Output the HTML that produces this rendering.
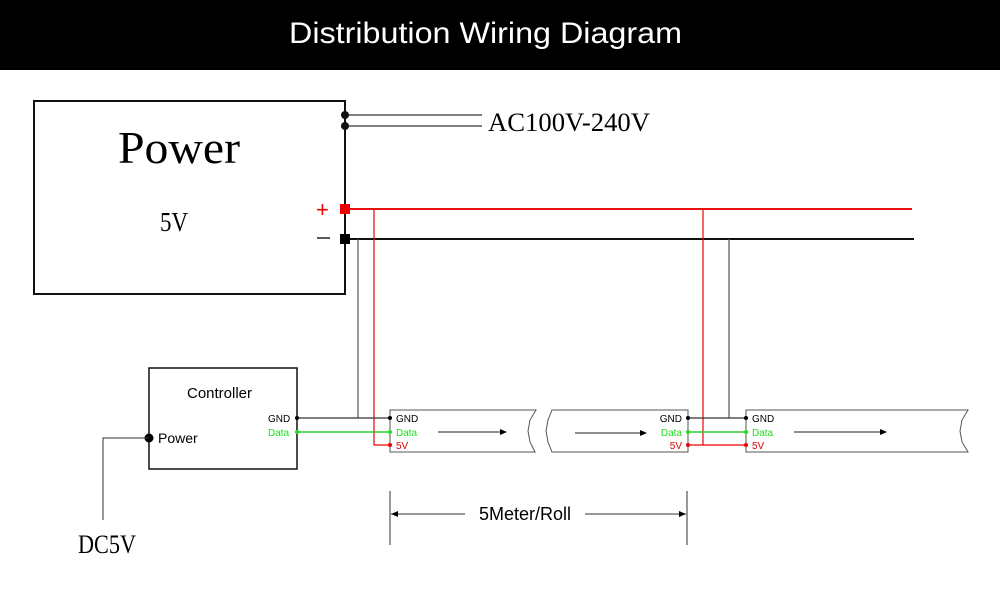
<!DOCTYPE html>
<html><head><meta charset="utf-8"><style>body{margin:0;background:#fff}svg{display:block}</style></head><body>
<svg width="1000" height="611" viewBox="0 0 1000 611" xmlns="http://www.w3.org/2000/svg" font-family="Liberation Sans, DejaVu Sans, sans-serif">
<rect width="1000" height="611" fill="#fff"/>
<rect width="1000" height="70" fill="#000"/>
<text x="289" y="43" fill="#fff" font-size="30" textLength="393" lengthAdjust="spacingAndGlyphs">Distribution Wiring Diagram</text>

<rect x="34" y="101" width="311" height="193" fill="none" stroke="#111" stroke-width="2"/>
<text x="118" y="163" font-family="Liberation Serif, serif" font-size="46" textLength="122" lengthAdjust="spacingAndGlyphs">Power</text>
<text x="160" y="231" font-family="Liberation Serif, serif" font-size="27" textLength="28" lengthAdjust="spacingAndGlyphs">5V</text>
<line x1="345" y1="115" x2="482" y2="115" stroke="#333" stroke-width="1.2"/>
<line x1="345" y1="126" x2="482" y2="126" stroke="#333" stroke-width="1.2"/>
<circle cx="345" cy="115" r="4" fill="#111"/><circle cx="345" cy="126" r="4" fill="#111"/>
<text x="488" y="131" font-family="Liberation Serif, serif" font-size="26" textLength="162" lengthAdjust="spacingAndGlyphs">AC100V-240V</text>

<text x="316" y="217" fill="#e00" font-size="22">+</text>
<line x1="317" y1="238" x2="330" y2="238" stroke="#222" stroke-width="1.5"/>
<line x1="345" y1="209" x2="912" y2="209" stroke="#e81010" stroke-width="2"/>
<line x1="345" y1="239" x2="914" y2="239" stroke="#111" stroke-width="2"/>
<rect x="340" y="204" width="10" height="10" fill="#e00"/>
<rect x="340" y="234" width="10" height="10" fill="#000"/>

<polyline points="374,209 374,445 390,445" fill="none" stroke="#e00" stroke-width="1.2"/>
<polyline points="358,239 358,418" fill="none" stroke="#555" stroke-width="1.2"/>
<line x1="703" y1="209" x2="703" y2="445" stroke="#e00" stroke-width="1.2"/>
<line x1="729" y1="239" x2="729" y2="418" stroke="#555" stroke-width="1.2"/>

<rect x="149" y="368" width="148" height="101" fill="none" stroke="#111" stroke-width="1.5"/>
<text x="187" y="398" font-size="15">Controller</text>
<circle cx="149" cy="438" r="4.5" fill="#000"/>
<text x="158" y="443" font-size="14">Power</text>
<text x="268" y="422" font-size="10">GND</text>
<text x="268" y="436" font-size="10" fill="#2d2">Data</text>
<polyline points="149,438 103,438 103,520" fill="none" stroke="#333" stroke-width="1"/>
<text x="78" y="553" font-family="Liberation Serif, serif" font-size="26" textLength="58" lengthAdjust="spacingAndGlyphs">DC5V</text>

<line x1="297" y1="418" x2="390" y2="418" stroke="#333" stroke-width="1.2"/>
<line x1="297" y1="432" x2="390" y2="432" stroke="#3c3" stroke-width="1.5"/>
<circle cx="297" cy="418" r="2" fill="#000"/><circle cx="297" cy="432" r="2" fill="#2d2"/>

<path d="M390,410 L536,410 L530,420 L528,431 L530,442 L535,452 L390,452 Z" fill="none" stroke="#555" stroke-width="1"/>
<circle cx="390" cy="418" r="2" fill="#000"/><circle cx="390" cy="432" r="2" fill="#2d2"/><circle cx="390" cy="445" r="2" fill="#e00"/>
<text x="396" y="422" font-size="10">GND</text>
<text x="396" y="436" font-size="10" fill="#2d2">Data</text>
<text x="396" y="449" font-size="10" fill="#d00">5V</text>
<line x1="438" y1="432" x2="500" y2="432" stroke="#222" stroke-width="1"/>
<path d="M500,429 L507,432 L500,435 Z" fill="#000"/>

<path d="M552,410 L688,410 L688,452 L552,452 L548,442 L546,431 L548,420 Z" fill="none" stroke="#555" stroke-width="1"/>
<line x1="575" y1="433" x2="640" y2="433" stroke="#222" stroke-width="1"/>
<path d="M640,430 L647,433 L640,436 Z" fill="#000"/>
<text x="682" y="422" font-size="10" text-anchor="end">GND</text>
<text x="682" y="436" font-size="10" fill="#2d2" text-anchor="end">Data</text>
<text x="682" y="449" font-size="10" fill="#d00" text-anchor="end">5V</text>
<line x1="688" y1="418" x2="746" y2="418" stroke="#333" stroke-width="1.2"/>
<line x1="688" y1="432" x2="746" y2="432" stroke="#3c3" stroke-width="1.5"/>
<line x1="688" y1="445" x2="746" y2="445" stroke="#e00" stroke-width="1.2"/>
<circle cx="688" cy="418" r="2" fill="#000"/><circle cx="688" cy="432" r="2" fill="#2d2"/><circle cx="688" cy="445" r="2" fill="#e00"/>

<path d="M746,410 L968,410 L962,420 L960,431 L962,442 L968,452 L746,452 Z" fill="none" stroke="#555" stroke-width="1"/>
<circle cx="746" cy="418" r="2" fill="#000"/><circle cx="746" cy="432" r="2" fill="#2d2"/><circle cx="746" cy="445" r="2" fill="#e00"/>
<text x="752" y="422" font-size="10">GND</text>
<text x="752" y="436" font-size="10" fill="#2d2">Data</text>
<text x="752" y="449" font-size="10" fill="#d00">5V</text>
<line x1="794" y1="432" x2="880" y2="432" stroke="#222" stroke-width="1"/>
<path d="M880,429 L887,432 L880,435 Z" fill="#000"/>

<line x1="390" y1="491" x2="390" y2="545" stroke="#333" stroke-width="1"/>
<line x1="687" y1="491" x2="687" y2="545" stroke="#333" stroke-width="1"/>
<line x1="391" y1="514" x2="465" y2="514" stroke="#333" stroke-width="1"/>
<line x1="585" y1="514" x2="686" y2="514" stroke="#333" stroke-width="1"/>
<path d="M391,514 L398,511 L398,517 Z" fill="#000"/>
<path d="M686,514 L679,511 L679,517 Z" fill="#000"/>
<text x="525" y="520" font-size="18" text-anchor="middle">5Meter/Roll</text>
</svg>
</body></html>
